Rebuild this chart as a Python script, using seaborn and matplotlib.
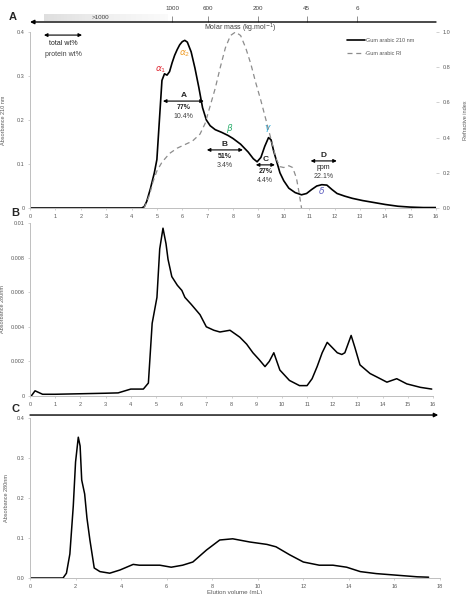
import numpy as np
import pandas as pd
import seaborn as sns
import matplotlib.pyplot as plt
from matplotlib.lines import Line2D

# Panel A: size exclusion, absorbance 210 nm (left axis)
sec_vol = [0, 4.4, 4.5, 4.6, 4.75, 4.9, 5.0, 5.1, 5.2, 5.3, 5.4, 5.5, 5.6, 5.7, 5.8, 5.9,
           6.0, 6.1, 6.2, 6.35, 6.5, 6.65, 6.8, 6.95, 7.1, 7.3, 7.55, 7.8, 8.0, 8.3, 8.6,
           8.8, 8.95, 9.1, 9.25, 9.4, 9.5, 9.6, 9.7, 9.85, 10.0, 10.2, 10.45, 10.7, 10.9,
           11.1, 11.3, 11.5, 11.7, 11.9, 12.1, 12.4, 12.7, 13.1, 13.5, 14.0, 14.5, 15.0,
           15.5, 16.0]
sec_abs = [0, 0, 0.003, 0.015, 0.045, 0.08, 0.11, 0.2, 0.29, 0.305, 0.302, 0.31, 0.33,
           0.347, 0.36, 0.371, 0.378, 0.381, 0.377, 0.355, 0.318, 0.275, 0.228, 0.2, 0.187,
           0.178, 0.172, 0.165, 0.158, 0.145, 0.127, 0.112, 0.105, 0.115, 0.14, 0.16, 0.155,
           0.13, 0.11, 0.08, 0.062, 0.045, 0.035, 0.03, 0.033, 0.042, 0.05, 0.053, 0.052,
           0.042, 0.033, 0.027, 0.022, 0.017, 0.013, 0.008, 0.004, 0.002, 0.001, 0.001]

# Panel A: refractive index (right axis)
ri_vol = [4.5, 4.7, 4.85, 5.0, 5.2, 5.5, 5.8, 6.1, 6.4, 6.7, 6.9, 7.1, 7.3, 7.5, 7.7, 7.9,
          8.1, 8.3, 8.5, 8.7, 8.9, 9.1, 9.3, 9.5, 9.7, 9.85, 10.0, 10.2, 10.35, 10.5, 10.6, 10.7]
ri_val = [0, 0.07, 0.15, 0.21, 0.26, 0.31, 0.34, 0.36, 0.38, 0.42, 0.48, 0.58, 0.68, 0.8,
          0.91, 0.98, 1.0, 0.98, 0.91, 0.82, 0.71, 0.61, 0.5, 0.39, 0.28, 0.235, 0.23, 0.24,
          0.23, 0.17, 0.09, 0.0]

# Panel B: hydrophobic interaction, absorbance 280 nm
hic_vol = [0.05, 0.2, 0.5, 1.0, 2.0, 3.0, 3.5, 4.0, 4.5, 4.7, 4.85, 5.04, 5.15, 5.28, 5.4,
           5.48, 5.63, 5.85, 6.03, 6.15, 6.4, 6.75, 7.0, 7.3, 7.54, 7.94, 8.33, 8.6, 8.85,
           9.1, 9.33, 9.5, 9.68, 9.92, 10.3, 10.7, 11.0, 11.2, 11.4, 11.6, 11.8, 12.0, 12.2,
           12.38, 12.5, 12.75, 12.9, 13.1, 13.5, 13.77, 14.17, 14.56, 14.96, 15.5, 15.95]
hic_abs = [0, 0.0003, 0.0001, 0.0001, 0.00013, 0.00016, 0.00018, 0.0004, 0.0004, 0.00075,
           0.0042, 0.0057, 0.0085, 0.0097, 0.0088, 0.0079, 0.0069, 0.0064, 0.0061, 0.0057,
           0.0053, 0.0047, 0.004, 0.0038, 0.0037, 0.0038, 0.0034, 0.003, 0.0025, 0.0021,
           0.0017, 0.002, 0.0025, 0.0015, 0.0009, 0.0006, 0.0006, 0.001, 0.0017, 0.0025,
           0.0031, 0.0028, 0.0025, 0.0024, 0.0025, 0.0035, 0.0028, 0.0018, 0.0013, 0.0011,
           0.0008, 0.001, 0.0007, 0.0005, 0.0004]

# Panel C: elution, absorbance 280 nm
iex_vol = [0, 1.45, 1.6, 1.75, 1.9, 2.0, 2.12, 2.2, 2.27, 2.4, 2.5, 2.63, 2.82, 3.07, 3.5,
           3.95, 4.53, 4.8, 5.7, 6.2, 6.7, 7.15, 7.75, 8.33, 8.9, 9.65, 10.4, 10.8, 11.4,
           12.0, 12.7, 13.3, 13.9, 14.5, 15.2, 16.1, 17.0, 17.5]
iex_abs = [0, 0, 0.012, 0.06, 0.18, 0.29, 0.352, 0.33, 0.245, 0.21, 0.15, 0.095, 0.025,
           0.016, 0.012, 0.02, 0.034, 0.032, 0.032, 0.027, 0.032, 0.04, 0.07, 0.095, 0.098,
           0.09, 0.084, 0.078, 0.058, 0.04, 0.032, 0.032, 0.027, 0.016, 0.011, 0.007, 0.003,
           0.002]

molar_labels = ['1000', '600', '200', '45', '6']
molar_pos = [5.6, 7.0, 9.0, 10.9, 12.9]

sns.set_style("white")
plt.rcParams['font.family'] = ['Liberation Sans', 'DejaVu Sans']
plt.rcParams['mathtext.fontset'] = 'dejavusans'
plt.rcParams['lines.solid_joinstyle'] = 'round'
plt.rcParams['lines.solid_capstyle'] = 'round'

W, H = 471, 594


def fx(px):
    return px / W


def fy(py):
    return 1 - py / H


fig = plt.figure(figsize=(4.71, 5.94), dpi=100)
axA = fig.add_axes([fx(30), fy(208), 406 / W, 176 / H])
axB = fig.add_axes([fx(30), fy(396), 403 / W, 173 / H])
axC = fig.add_axes([fx(30), fy(578), 410 / W, 160 / H])

tick_col = '#595959'
spine_col = '#bfbfbf'

for ax in (axA, axB, axC):
    for s in ('top', 'right'):
        ax.spines[s].set_visible(False)
    for s in ('left', 'bottom'):
        ax.spines[s].set_color(spine_col)
        ax.spines[s].set_linewidth(0.7)
    ax.tick_params(labelsize=4, labelcolor=tick_col, color=spine_col,
                   length=1.5, width=0.5, pad=2.5, left=True, bottom=True)

# ---- Panel A
sec = pd.DataFrame({'vol': sec_vol, 'abs': sec_abs})
ri = pd.DataFrame({'vol': ri_vol, 'ri': ri_val})
sns.lineplot(data=sec, x='vol', y='abs', ax=axA, color='black', lw=1.2,
             estimator=None, sort=False)
axA.set_xlim(0, 16)
axA.set_ylim(0, 0.4)
axA.set_xticks(range(0, 17))
axA.set_yticks([0, 0.1, 0.2, 0.3, 0.4])
axA.set_yticklabels(['0', '0.1', '0.2', '0.3', '0.4'])
axA.set_xlabel('')
axA.set_ylabel('Absorbance 210 nm', fontsize=4, color=tick_col)
axA.yaxis.set_label_coords(-0.058, 0.5)

axR = axA.twinx()
sns.lineplot(data=ri, x='vol', y='ri', ax=axR, color='#8c8c8c', lw=0.9,
             linestyle=(0, (4, 3)), estimator=None, sort=False)
axR.set_ylim(0, 1.0)
axR.set_yticks([0, 0.2, 0.4, 0.6, 0.8, 1.0])
axR.set_yticklabels(['0.0', '0.2', '0.4', '0.6', '0.8', '1.0'])
for s in axR.spines.values():
    s.set_visible(False)
axR.tick_params(labelsize=4, labelcolor=tick_col, color=spine_col, length=2,
                width=0.5, pad=3, right=True)
axR.set_ylabel('Refractive index', fontsize=4, color=tick_col)
axR.yaxis.set_label_coords(1.066, 0.5)

handles = [Line2D([], [], color='black', lw=1.2),
           Line2D([], [], color='#8c8c8c', lw=0.9, linestyle=(0, (4, 3)))]
axA.legend(handles, ['Gum arabic 210 nm', 'Gum arabic RI'], loc='upper left',
           bbox_to_anchor=(fx(347), fy(38)), bbox_transform=fig.transFigure,
           fontsize=4, frameon=False, handlelength=3.2, labelspacing=1.4,
           borderaxespad=0, borderpad=0, handletextpad=0.3, labelcolor=tick_col)

# greek peak labels
greek = [(r'$\alpha_1$', 5.16, 0.314, '#e0303a'),
         (r'$\alpha_2$', 6.1, 0.35, '#f0a030'),
         (r'$\beta$', 7.87, 0.18, '#30b070'),
         (r'$\gamma$', 9.37, 0.18, '#20a8d8'),
         (r'$\delta$', 11.5, 0.039, '#6060c0')]
for txt, gx, gy, c in greek:
    axA.text(gx, gy, txt, color=c, fontsize=6.5, ha='center', va='center')

# fraction arrows and labels
fractions = [('A', 5.24, 6.85, 0.243, '77%', '10.4%'),
             ('B', 6.97, 8.39, 0.132, '51%', '3.4%'),
             ('C', 8.9, 9.65, 0.098, '27%', '4.4%'),
             ('D', 11.06, 12.09, 0.107, 'ppm', '22.1%')]
for name, x0, x1, ya, t1, t2 in fractions:
    axA.annotate('', xy=(x0, ya), xytext=(x1, ya),
                 arrowprops=dict(arrowstyle='<|-|>', color='black', lw=0.8,
                                 mutation_scale=5, shrinkA=0, shrinkB=0))
    xm = (x0 + x1) / 2
    axA.text(xm, ya + 0.013, name, fontsize=6, weight='bold', ha='center', va='center')
    axA.text(xm, ya - 0.015, t1, fontsize=5, weight='bold' if name != 'D' else 'normal',
             ha='center', va='center', color='#202020')
    axA.text(xm, ya - 0.035, t2, fontsize=5, ha='center', va='center', color='#404040')

axA.annotate('', xy=(0.55, 0.393), xytext=(2.05, 0.393),
             arrowprops=dict(arrowstyle='<|-|>', color='black', lw=0.8,
                             mutation_scale=5, shrinkA=0, shrinkB=0))
axA.text(1.3, 0.373, 'total wt%', fontsize=5, ha='center', va='center', color='#202020')
axA.text(1.3, 0.348, 'protein wt%', fontsize=5, ha='center', va='center', color='#404040')

# ---- molar mass scale above A
axT = fig.add_axes([fx(30), fy(30), 406 / W, 25 / H])
axT.imshow(np.linspace(0.22, 0.04, 100)[None, :], cmap='Greys', vmin=0, vmax=1,
           extent=(0.55, 5.43, 0.36, 0.62), aspect='auto')
axT.set_xlim(0, 16)
axT.set_ylim(0, 1)
axT.axis('off')
axT.annotate('', xy=(0, 0.32), xytext=(16, 0.32),
             arrowprops=dict(arrowstyle='-|>', color='black', lw=1.0,
                             mutation_scale=6, shrinkA=0, shrinkB=0),
             annotation_clip=False)
axT.vlines(molar_pos, 0.32, 0.58, color='#7f7f7f', lw=0.6)
for p, lab in zip(molar_pos, molar_labels):
    axT.text(p, 0.84, lab, fontsize=4.5, ha='center', va='center', color='#404040')
axT.text(2.76, 0.5, '>1000', fontsize=4.5, ha='center', va='center', color='#404040')
axT.text(8.27, 0.06, 'Molar mass (kg.mol$^{-1}$)', fontsize=5, ha='center',
         va='center', color='#404040')

# ---- Panel B
hic = pd.DataFrame({'vol': hic_vol, 'abs': hic_abs})
sns.lineplot(data=hic, x='vol', y='abs', ax=axB, color='black', lw=1.1,
             estimator=None, sort=False)
axB.set_xlim(0, 16)
axB.set_ylim(0, 0.01)
axB.set_xticks(range(0, 17))
axB.set_yticks([0, 0.002, 0.004, 0.006, 0.008, 0.01])
axB.set_yticklabels(['0', '0.002', '0.004', '0.006', '0.008', '0.01'])
axB.set_xlabel('')
axB.set_ylabel('Absorbance 280nm', fontsize=4, color=tick_col)
axB.yaxis.set_label_coords(-0.062, 0.5)
axB.annotate('', xy=(1.013, -0.11), xytext=(0, -0.11), xycoords='axes fraction',
             arrowprops=dict(arrowstyle='-|>', color='black', lw=1.0,
                             mutation_scale=6, shrinkA=0, shrinkB=0),
             annotation_clip=False)
axB.text(0.516, -0.15, 'Hydrophobicity', transform=axB.transAxes, fontsize=5,
         ha='center', va='center', color='#404040')

# ---- Panel C
iex = pd.DataFrame({'vol': iex_vol, 'abs': iex_abs})
sns.lineplot(data=iex, x='vol', y='abs', ax=axC, color='black', lw=1.1,
             estimator=None, sort=False)
axC.set_xlim(0, 18)
axC.set_ylim(0, 0.4)
axC.set_xticks(range(0, 19, 2))
axC.set_yticks([0, 0.1, 0.2, 0.3, 0.4])
axC.set_yticklabels(['0.0', '0.1', '0.2', '0.3', '0.4'])
axC.set_xlabel('Elution volume (mL)', fontsize=4.5, color=tick_col, labelpad=1)
axC.set_ylabel('Absorbance 280nm', fontsize=4, color=tick_col)
axC.yaxis.set_label_coords(-0.05, 0.5)

# panel letters
for letter, px, py in [('A', 13, 17), ('B', 15, 213), ('C', 15, 409)]:
    fig.text(fx(px), fy(py), letter, fontsize=8, weight='bold', ha='center', va='center')

fig.savefig('out.png', dpi=100)
